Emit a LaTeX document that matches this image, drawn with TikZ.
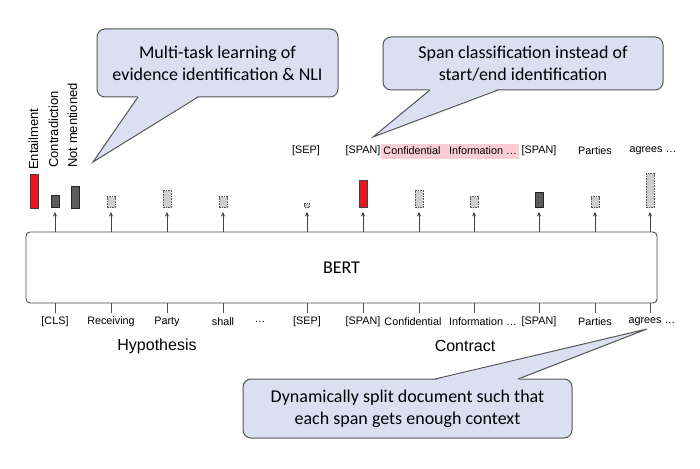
\documentclass[tikz,border=0pt]{standalone}
\usepackage{fontspec}
\setmainfont{Liberation Sans}
\newfontfamily\calfont{Carlito}
\usetikzlibrary{arrows.meta,positioning,calc}
\definecolor{calloutfill}{RGB}{218,224,242}
\definecolor{calloutline}{RGB}{85,85,85}
\definecolor{entred}{RGB}{236,20,28}
\definecolor{spanpink}{RGB}{250,205,212}
\definecolor{bardark}{RGB}{92,92,92}
\definecolor{barlight}{RGB}{206,206,206}
\tikzset{
  bertbox/.style={draw=black!70, line width=0.9pt, rounded corners=4pt,
    minimum width=631pt, minimum height=71pt, font=\calfont\fontsize{18}{20}\selectfont},
  barbase/.style={inner sep=0pt, anchor=south, line width=0.7pt},
  redbar/.style={barbase, draw=black!75, fill=entred},
  darkbar/.style={barbase, draw=black!85, fill=bardark},
  scorebar/.style={barbase, draw=black!65, dash pattern=on 1.6pt off 1pt, fill=barlight},
  tokarrow/.style={-{Stealth[length=4.5pt,width=4pt]}, line width=0.8pt, black!75, shorten >=4pt},
  tickln/.style={line width=0.8pt, black!70},
  toklabel/.style={font=\fontsize{10.8}{12}\selectfont, inner sep=0pt},
  classlabel/.style={font=\fontsize{13}{15}\selectfont, rotate=90, anchor=base west, inner sep=0pt},
  seglabel/.style={font=\fontsize{16}{18}\selectfont},
  callbox/.style={draw=calloutline, fill=calloutfill, line width=1pt, rounded corners=8pt,
    align=center, inner sep=0pt, font=\calfont\fontsize{18}{22}\selectfont},
  callptr/.style={fill=calloutfill},
  callside/.style={draw=calloutline, line width=1pt},
}

\begin{document}
\begin{tikzpicture}[x=1pt, y=-1pt]
    \useasboundingbox (0,0) rectangle (700,468);
    % encoder
    \node[bertbox] (bert) at (341.5,267.5) {BERT};
    % token columns
    \foreach \x [count=\i] in {55,111,167,223,307,363,419,474,539,595,650}
      \coordinate (col\i) at (\x,208);
    % class scores
    \node[redbar, minimum width=8pt, minimum height=34pt] (ent) at (34,209) {};
    \node[darkbar, minimum width=8pt, minimum height=22pt] (notm) at (75,209) {};
    \node[classlabel] (lent) at (38,170) {Entailment};
    \node[classlabel] (lcon) at (58,168) {Contradiction};
    \node[classlabel] (lnot) at (77,168) {Not mentioned};
    % output bars and arrows
    \foreach \i/\w/\h/\sty in {1/8/12/darkbar, 2/8/11/scorebar, 3/8/17/scorebar,
        4/8/11/scorebar, 5/5/4/scorebar, 6/8/27/redbar, 7/8/17/scorebar,
        8/8/11/scorebar, 9/8/15/darkbar, 10/8/11/scorebar, 11/8/34/scorebar}{
      \node[\sty, minimum width=\w pt, minimum height=\h pt] (bar\i) at (col\i) {};
      \draw[tokarrow] (bert.north -| col\i) -- (bar\i.south);
      \draw[tickln] (bert.south -| col\i) -- ++(0,10);
    }
    % span labels above
    \node[fill=spanpink, minimum width=138pt, minimum height=15pt, inner sep=0pt] (spanbg) at (450,151.5) {};
    \node[toklabel] (t5) at (306,151) {[SEP]};
    \node[toklabel] (t6) at (363,151) {[SPAN]};
    \node[toklabel] (t7) at (412,151) {Confidential};
    \node[toklabel] (t8) at (483,151) {Information …};
    \node[toklabel] (t9) at (539,151) {[SPAN]};
    \node[toklabel] (t10) at (595,151) {Parties};
    \node[toklabel] (t11) at (653,151) {agrees …};
    % input tokens
    \node[toklabel] (in1) at (55,322) {[CLS]};
    \node[toklabel] (in2) at (111,322) {Receiving};
    \node[toklabel] (in3) at (167,322) {Party};
    \node[toklabel] (in4) at (223,322) {shall};
    \node[toklabel] (indots) at (260,322) {…};
    \node[toklabel] (in5) at (307,322) {[SEP]};
    \node[toklabel] (in6) at (363,322) {[SPAN]};
    \node[toklabel] (in7) at (413,322) {Confidential};
    \node[toklabel] (in8) at (483,322) {Information …};
    \node[toklabel] (in9) at (539,322) {[SPAN]};
    \node[toklabel] (in10) at (595,322) {Parties};
    \node[toklabel] (in11) at (652,322) {agrees …};
    \node[seglabel] (hyp) at (157,346) {Hypothesis};
    \node[seglabel] (ctr) at (465,346) {Contract};
    % callout: multi-task
    \node[callbox, minimum width=241pt, minimum height=68pt] (note1) at (217.5,63)
      {Multi-task learning of\\evidence identification \& NLI};
    \coordinate (tip1) at (93,162);
    \fill[callptr] (138,96) -- (tip1) -- (198,96) -- cycle;
    \draw[callside] (138,97) -- (tip1) -- (198,97);
    % callout: span classification
    \node[callbox, minimum width=280pt, minimum height=53pt] (note2) at (523,63.5)
      {Span classification instead of\\start/end identification};
    \coordinate (tip2) at (373,137);
    \fill[callptr] (430,89) -- (tip2) -- (498,89) -- cycle;
    \draw[callside] (430,90) -- (tip2) -- (498,90);
    % callout: splitting
    \node[callbox, minimum width=329pt, minimum height=59pt] (note3) at (407.5,408.5)
      {Dynamically split document such that\\each span gets enough context};
    \coordinate (tip3) at (647,329);
    \fill[callptr] (435,380) -- (tip3) -- (518,380) -- cycle;
    \draw[callside] (435,379) -- (tip3) -- (518,379);
\end{tikzpicture}
\end{document}
